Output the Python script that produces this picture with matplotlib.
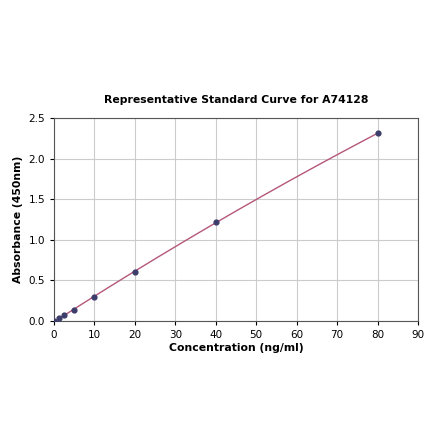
import numpy as np
import matplotlib
matplotlib.use("Agg")
import matplotlib.pyplot as plt

conc = [0, 1.25, 2.5, 5, 10, 20, 40, 80]
absorb = [0.0, 0.04, 0.07, 0.13, 0.30, 0.61, 1.22, 2.31]
title = "Representative Standard Curve for A74128"
xlabel = "Concentration (ng/ml)"
ylabel = "Absorbance (450nm)"

fig = plt.figure(figsize=(4.4, 4.41), dpi=100)
ax = fig.add_axes([0.1227, 0.272, 0.8273, 0.4604])

coef = np.polyfit(conc, absorb, 2)
xs = np.linspace(0, max(conc), 200)
ax.plot(xs, np.polyval(coef, xs), color="#b5577a", lw=1.0, zorder=2)
ax.scatter(conc, absorb, s=12, color="#3d3d6b", zorder=3)

ax.set_xlim(0, 90)
ax.set_ylim(0, 2.5)
ax.set_xticks(range(0, 91, 10))
ax.set_yticks([0, 0.5, 1.0, 1.5, 2.0, 2.5])
ax.grid(True, color="#cccccc", lw=0.8)
ax.set_axisbelow(True)
ax.tick_params(labelsize=7.5, length=3)
for s in ax.spines.values():
    s.set_color("#555555")
ax.set_title(title, fontsize=7.8, fontweight="bold", pad=11)
ax.set_xlabel(xlabel, fontsize=7.8, fontweight="bold", labelpad=2)
ax.set_ylabel(ylabel, fontsize=7.8, fontweight="bold", labelpad=4)

fig.savefig("out.png", dpi=100)
